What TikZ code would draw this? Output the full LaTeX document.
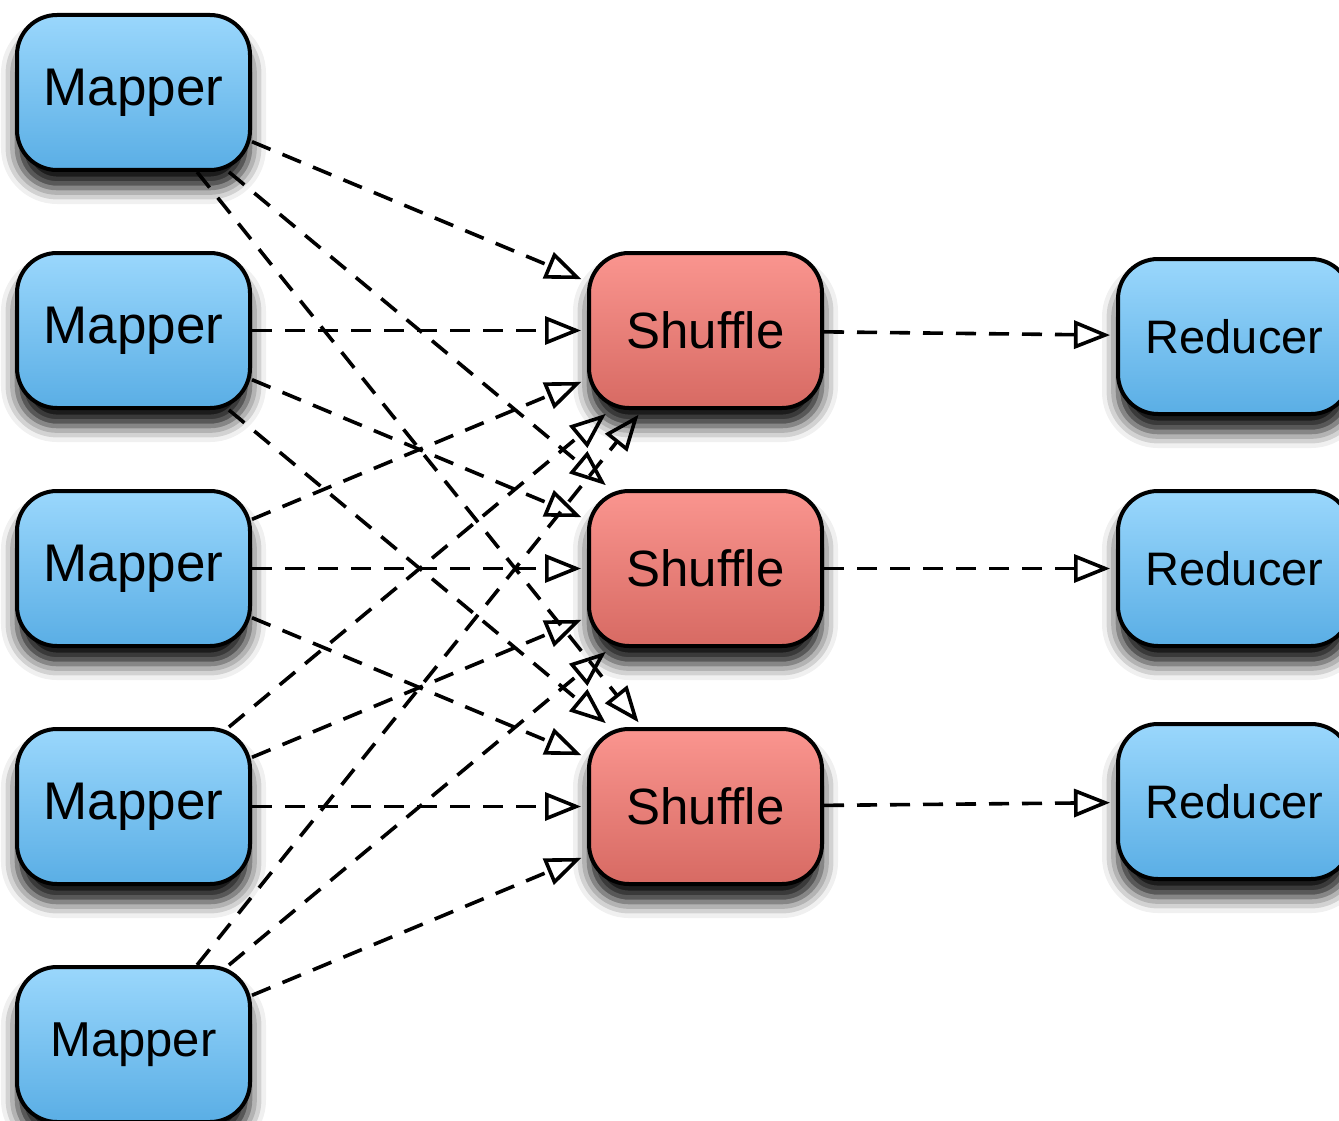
\documentclass[tikz,border=0pt]{standalone}
\usepackage{fontspec}
\setmainfont{Liberation Sans}
\usetikzlibrary{arrows.meta,shadows.blur}
\definecolor{boxtopblue}{HTML}{9AD7FC}
\definecolor{boxbotblue}{HTML}{5AAEE5}
\definecolor{boxtopred}{HTML}{FA958F}
\definecolor{boxbotred}{HTML}{D76A63}
\begin{document}
\begin{tikzpicture}[x=1pt,y=1pt,yscale=-1,
	box/.style={draw=black,line width=4pt,rounded corners=40pt,minimum width=233pt,minimum height=155pt,inner sep=0pt,
		blur shadow={shadow xshift=0pt,shadow yshift=-18pt,shadow blur radius=16pt,shadow opacity=95}},
	mapbox/.style={box,top color=boxtopblue,bottom color=boxbotblue,font=\fontsize{53}{58}\selectfont},
	shufbox/.style={box,top color=boxtopred,bottom color=boxbotred,font=\fontsize{51}{56}\selectfont},
	redbox/.style={box,top color=boxtopblue,bottom color=boxbotblue,font=\fontsize{47}{50}\selectfont},
	flow/.style={line width=3.6pt,dash pattern=on 20pt off 13pt,-{Triangle[open,length=36pt,width=28pt,line width=3.6pt]},shorten >=6pt}]
	\useasboundingbox (0,0) rectangle (1339,1121);

	\node[mapbox] (map1) at (133.5,92.5) {Mapper};
	\node[mapbox] (map2) at (133.5,330.5) {Mapper};
	\node[mapbox] (map3) at (133.5,568.5) {Mapper};
	\node[mapbox] (map4) at (133.5,806.5) {Mapper};
	\node[mapbox,font=\fontsize{49}{54}\selectfont] (map5) at (133.5,1044.5) {Mapper};

	\node[shufbox] (shuf1) at (705.5,330.5) {Shuffle};
	\node[shufbox] (shuf2) at (705.5,568.5) {Shuffle};
	\node[shufbox] (shuf3) at (705.5,806.5) {Shuffle};

	\node[redbox] (red1) at (1234.5,336.5) {Reducer};
	\node[redbox] (red2) at (1234.5,568.5) {Reducer};
	\node[redbox] (red3) at (1234.5,801.5) {Reducer};

	% mappers to shuffles
	\draw[flow] (map1) -- (shuf1);
	\draw[flow] (map1) -- (shuf2);
	\draw[flow] (map1) -- (shuf3);
	\draw[flow] (map2) -- (shuf1);
	\draw[flow] (map2) -- (shuf2);
	\draw[flow] (map2) -- (shuf3);
	\draw[flow] (map3) -- (shuf1);
	\draw[flow] (map3) -- (shuf2);
	\draw[flow] (map3) -- (shuf3);
	\draw[flow] (map4) -- (shuf1);
	\draw[flow] (map4) -- (shuf2);
	\draw[flow] (map4) -- (shuf3);
	\draw[flow] (map5) -- (shuf1);
	\draw[flow] (map5) -- (shuf2);
	\draw[flow] (map5) -- (shuf3);

	% shuffles to reducers
	\draw[flow] (shuf1) -- (red1);
	\draw[flow] (shuf2) -- (red2);
	\draw[flow] (shuf3) -- (red3);
\end{tikzpicture}
\end{document}
